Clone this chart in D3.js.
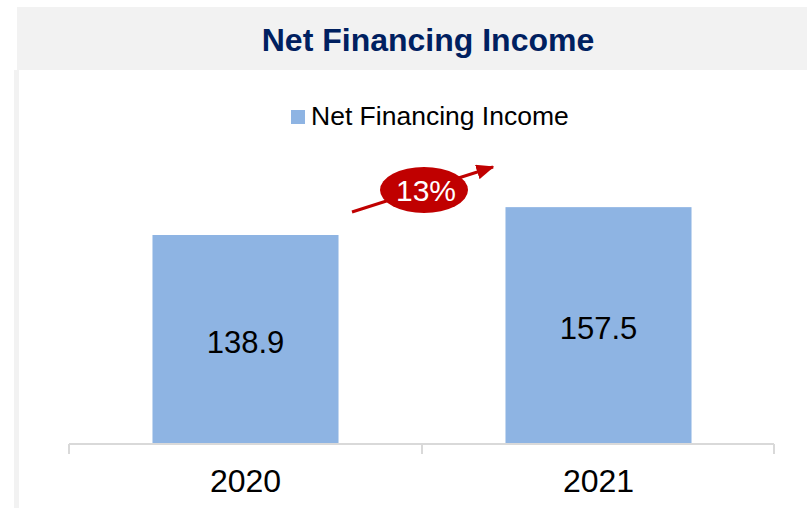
<!DOCTYPE html>
<html><head><meta charset="utf-8">
<script src="https://cdn.jsdelivr.net/npm/d3@7"></script>
<style>html,body{margin:0;padding:0;background:#fff;}svg{display:block;font-family:"Liberation Sans",Arial,sans-serif;}</style>
</head><body>
<script>
const categories = ["2020", "2021"];
const values = [138.9, 157.5];
const valueLabels = ["138.9", "157.5"];
const seriesName = "Net Financing Income";
const growthLabel = "13%";
const title = "Net Financing Income";

const W = 807, H = 508;
const svg = d3.select("body").append("svg").attr("width", W).attr("height", H);

// frame
svg.append("rect").attr("x", 17).attr("y", 7).attr("width", W - 17).attr("height", 63).attr("fill", "#F2F2F2");
svg.append("rect").attr("x", 14).attr("y", 70).attr("width", 5).attr("height", H - 70).attr("fill", "#F2F2F2");
svg.append("text").attr("x", 428).attr("y", 51).attr("text-anchor", "middle")
  .attr("font-size", 32).attr("font-weight", "bold").attr("fill", "#002060").text(title);

// scales
const x = d3.scaleBand().domain(categories).range([69, 775]).paddingInner(0.473).paddingOuter(0.2365);
const y = d3.scaleLinear().domain([0, 180]).range([443, 443 - 180 * 1.4975]);

// bars
svg.selectAll("rect.bar").data(values).join("rect").attr("class", "bar")
  .attr("x", (d, i) => x(categories[i])).attr("width", x.bandwidth())
  .attr("y", d => y(d)).attr("height", d => y(0) - y(d)).attr("fill", "#8EB4E3");

// value labels
svg.selectAll("text.val").data(values).join("text").attr("class", "val")
  .attr("x", (d, i) => x(categories[i]) + x.bandwidth() / 2)
  .attr("y", d => (y(d) + y(0)) / 2 + 14)
  .attr("text-anchor", "middle").attr("font-size", 31).attr("fill", "#000")
  .text((d, i) => valueLabels[i]);

// axis
const ax = svg.append("g").attr("transform", `translate(0,${y(0) + 1})`)
  .call(d3.axisBottom(x).tickSize(0).tickPadding(25).tickFormat(d => d));
ax.select(".domain").attr("stroke", "#D9D9D9").attr("stroke-width", 2).attr("d", "M69,0H774");
ax.selectAll(".tick text").attr("font-size", 32).attr("fill", "#000").attr("font-family", "'Liberation Sans',Arial,sans-serif");
const step = x.step();
const edges = [x(categories[0]) - step * x.paddingInner() / 2].concat(categories.map(c => x(c) + x.bandwidth() + step * x.paddingInner() / 2));
ax.selectAll("line.edge").data(edges).join("line").attr("class", "edge")
  .attr("x1", d => Math.min(d, 774)).attr("x2", d => Math.min(d, 774)).attr("y1", 0).attr("y2", 10)
  .attr("stroke", "#D9D9D9").attr("stroke-width", 2);

// legend
const lg = svg.append("g");
lg.append("rect").attr("x", 291).attr("y", 110).attr("width", 14).attr("height", 14).attr("fill", "#8EB4E3");
lg.append("text").attr("x", 311).attr("y", 125).attr("font-size", 26.5).attr("fill", "#000").text(seriesName);

// growth arrow
const defs = svg.append("defs");
defs.append("marker").attr("id", "ah").attr("viewBox", "0 0 12 10").attr("refX", 11).attr("refY", 5)
  .attr("markerWidth", 6).attr("markerHeight", 5).attr("markerUnits", "strokeWidth").attr("orient", "auto")
  .append("path").attr("d", "M0,0L12,5L0,10Z").attr("fill", "#C00000");
svg.append("line").attr("x1", 352).attr("y1", 212).attr("x2", 493).attr("y2", 167)
  .attr("stroke", "#C00000").attr("stroke-width", 3).attr("marker-end", "url(#ah)");
svg.append("ellipse").attr("cx", 424).attr("cy", 190).attr("rx", 44).attr("ry", 23).attr("fill", "#C00000");
svg.append("text").attr("x", 426).attr("y", 201).attr("text-anchor", "middle").attr("font-size", 30)
  .attr("fill", "#fff").text(growthLabel);
</script>
</body></html>
